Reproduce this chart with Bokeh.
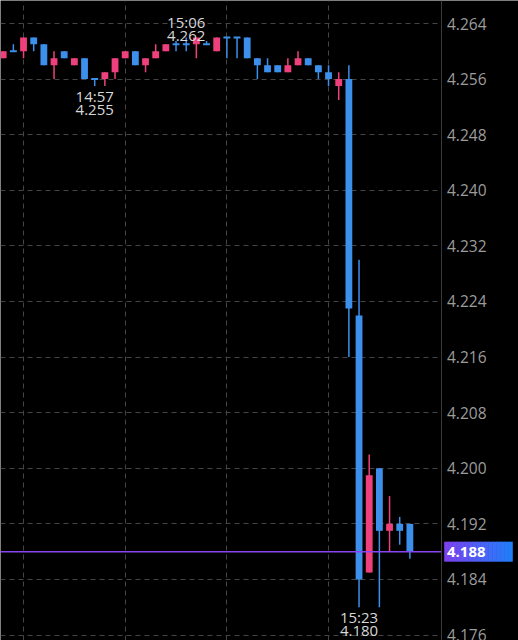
from bokeh.plotting import figure
from bokeh.models import ColumnDataSource, FixedTicker, PrintfTickFormatter, Range1d, Grid, LinearAxis
from bokeh.core.properties import value
from bokeh.embed import file_html
from bokeh.resources import INLINE

# ---------------- data ----------------
times = ["14:48", "14:49", "14:50", "14:51", "14:52", "14:53", "14:54", "14:55", "14:56", "14:57",
         "14:58", "14:59", "15:00", "15:01", "15:02", "15:03", "15:04", "15:05", "15:06", "15:07",
         "15:08", "15:09", "15:10", "15:11", "15:12", "15:13", "15:14", "15:15", "15:16", "15:17",
         "15:18", "15:19", "15:20", "15:21", "15:22", "15:23", "15:24", "15:25", "15:26", "15:27",
         "15:28"]
opens = [4.259, 4.260, 4.260, 4.262, 4.261, 4.258, 4.260, 4.258, 4.259, 4.256,
         4.256, 4.257, 4.259, 4.260, 4.258, 4.259, 4.260, 4.261, 4.261, 4.261,
         4.261, 4.260, 4.262, 4.262, 4.262, 4.259, 4.258, 4.258, 4.257, 4.258,
         4.259, 4.258, 4.257, 4.255, 4.256, 4.222, 4.185, 4.200, 4.191, 4.192,
         4.192]
highs = [4.260, 4.261, 4.262, 4.262, 4.261, 4.260, 4.260, 4.259, 4.259, 4.256,
         4.257, 4.259, 4.260, 4.260, 4.259, 4.261, 4.261, 4.2615, 4.262, 4.262,
         4.2615, 4.262, 4.262, 4.262, 4.262, 4.259, 4.259, 4.258, 4.259, 4.260,
         4.259, 4.258, 4.258, 4.257, 4.258, 4.230, 4.202, 4.200, 4.196, 4.193,
         4.192]
lows = [4.259, 4.260, 4.259, 4.260, 4.258, 4.256, 4.259, 4.258, 4.256, 4.255,
        4.255, 4.256, 4.259, 4.258, 4.257, 4.259, 4.260, 4.260, 4.260, 4.259,
        4.261, 4.260, 4.259, 4.259, 4.259, 4.256, 4.257, 4.257, 4.257, 4.258,
        4.258, 4.256, 4.255, 4.253, 4.216, 4.180, 4.185, 4.180, 4.188, 4.189,
        4.187]
closes = [4.260, 4.260, 4.262, 4.261, 4.258, 4.259, 4.259, 4.259, 4.256, 4.256,
          4.257, 4.259, 4.260, 4.258, 4.259, 4.260, 4.261, 4.261, 4.261, 4.262,
          4.261, 4.262, 4.262, 4.262, 4.259, 4.258, 4.257, 4.257, 4.258, 4.259,
          4.258, 4.257, 4.256, 4.256, 4.223, 4.184, 4.199, 4.191, 4.192, 4.191,
          4.188]

y_ticks = [4.176, 4.184, 4.192, 4.200, 4.208, 4.216, 4.224, 4.232, 4.240, 4.248, 4.256, 4.264]
grid_times = ["14:50", "15:00", "15:10", "15:20"]

mark_below_times = ["14:57", "15:23"]
mark_below_prices = [4.255, 4.180]
mark_above_times = ["15:06"]
mark_above_prices = [4.262]

last_price = 4.188

# ---------------- layout helpers ----------------
def to_min(t):
    h, m = t.split(":")
    return int(h) * 60 + int(m)

W, H = 518, 640
t0 = to_min("14:57")
PX_PER_MIN = 10.167
X_T0 = 94.2            # pixel column of the 14:57 candle


def x_at(px):
    return t0 + (px - X_T0) / PX_PER_MIN


AXIS_X = x_at(440.5)
Y_TOP, Y_BOTTOM = 4.26731, 4.17522

UP = "#ee407c"
DOWN = "#3c8fea"
GRID = "#454545"

x = [to_min(t) for t in times]
colors = [UP if c > o else DOWN for o, c in zip(opens, closes)]
src = ColumnDataSource(dict(
    x=x, open=opens, high=highs, low=lows, close=closes,
    top=[max(o, c) for o, c in zip(opens, closes)],
    bottom=[min(o, c) for o, c in zip(opens, closes)],
    color=colors,
))
doji = [i for i, (o, c) in enumerate(zip(opens, closes)) if o == c]
doji_src = ColumnDataSource(dict(
    x0=[x[i] - 0.34 for i in doji], x1=[x[i] + 0.34 for i in doji],
    y=[closes[i] for i in doji], color=[colors[i] for i in doji],
))

p = figure(width=W, height=H, output_backend="svg", toolbar_location=None, title=None,
           x_range=Range1d(x_at(0), x_at(W)),
           y_range=Range1d(Y_BOTTOM, Y_TOP),
           x_axis_location=None, y_axis_location=None,
           background_fill_color="#000000", border_fill_color="#000000",
           outline_line_color=None,
           min_border_left=0, min_border_top=0, min_border_bottom=0, min_border_right=0)

# grids
for g in p.grid:
    g.visible = False
vgrid = Grid(dimension=0, ticker=FixedTicker(ticks=[to_min(t) for t in grid_times]),
             grid_line_color=GRID, grid_line_dash="5 4", grid_line_width=1)
hgrid = Grid(dimension=1, ticker=FixedTicker(ticks=y_ticks), cross_bounds=(x_at(0), AXIS_X),
             grid_line_color=GRID, grid_line_dash="5 4", grid_line_width=1)
p.add_layout(vgrid, "center")
p.add_layout(hgrid, "center")

# price axis (drawn at a fixed position inside the canvas)
yaxis = LinearAxis(fixed_location=AXIS_X, ticker=FixedTicker(ticks=y_ticks),
                   formatter=PrintfTickFormatter(format="%.3f"))
yaxis.axis_line_color = "#3a3a3a"
yaxis.axis_line_width = 1
yaxis.major_tick_in = 0
yaxis.major_tick_out = 0
yaxis.minor_tick_line_color = None
yaxis.major_label_text_color = "#9c9c9c"
yaxis.major_label_text_font = "Open Sans"
yaxis.major_label_text_font_size = "15.5px"
yaxis.major_label_standoff = 6
p.add_layout(yaxis, "right")

# candles
p.segment(x0="x", y0="high", x1="x", y1="low", source=src, line_color="color", line_width=1.5)
p.vbar(x="x", width=0.67, top="top", bottom="bottom", source=src,
       fill_color="color", line_color=None)
p.segment(x0="x0", y0="y", x1="x1", y1="y", source=doji_src, line_color="color", line_width=2)

# last price line
p.segment(x0=[x_at(0)], y0=[last_price], x1=[AXIS_X], y1=[last_price],
          line_color="#8844f2", line_width=1.5)

# high / low markers
below = ColumnDataSource(dict(
    x=[to_min(t) for t in mark_below_times], y=mark_below_prices,
    t=mark_below_times, v=["%.3f" % v for v in mark_below_prices]))
above = ColumnDataSource(dict(
    x=[to_min(t) for t in mark_above_times], y=mark_above_prices,
    t=mark_above_times, v=["%.3f" % v for v in mark_above_prices]))
common = dict(text_color="#d8d8d8", text_font=value("Open Sans"), text_font_size="15px",
              text_align="center", text_baseline="alphabetic")
p.text(x="x", y="y", text="t", source=below, y_offset=10, **common)
p.text(x="x", y="y", text="v", source=below, y_offset=24, **common)
p.text(x="x", y="y", text="t", source=above, y_offset=-15, **common)
p.text(x="x", y="y", text="v", source=above, y_offset=-1, **common)

# last price tag with a purple -> blue gradient
TAG_L, TAG_R, TAG_H, STEP = 444, 512, 20, 4
c0, c1 = (0x7b, 0x42, 0xf0), (0x22, 0x7d, 0xfa)
n = (TAG_R - TAG_L) // STEP
tag_x, tag_c = [], []
for k in range(n):
    f = k / (n - 1)
    rgb = tuple(int(round(a + (b - a) * f)) for a, b in zip(c0, c1))
    tag_x.append(x_at(TAG_L + STEP * k + STEP / 2))
    tag_c.append("#%02x%02x%02x" % rgb)
p.rect(x=tag_x, y=[last_price] * n, width=STEP + 0.6, height=TAG_H,
       width_units="screen", height_units="screen", fill_color=tag_c, line_color=None)
p.text(x=[x_at(446.5)], y=[last_price], text=["%.3f" % last_price],
       text_color="#ffffff", text_font=value("Open Sans"), text_font_size="15px",
       text_font_style="bold", text_align="left", text_baseline="middle")

open("out.html", "w").write(file_html(p, INLINE))
